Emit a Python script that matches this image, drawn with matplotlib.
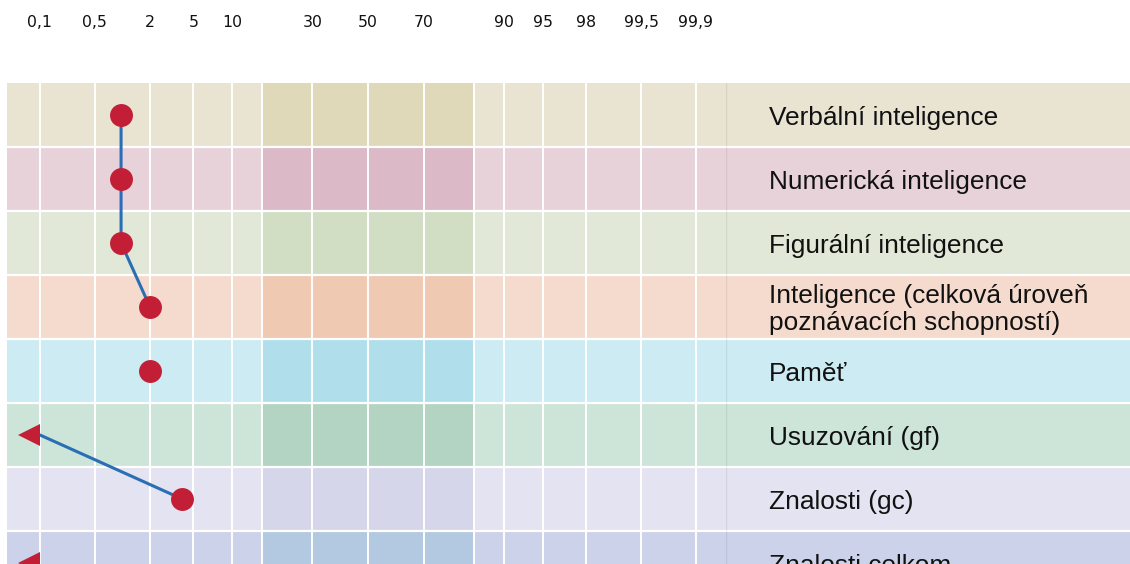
import math
import matplotlib
matplotlib.use("Agg")
import matplotlib.pyplot as plt
from matplotlib import transforms

# --- data ---
categories = [
    "Verbální inteligence",
    "Numerická inteligence",
    "Figurální inteligence",
    "Inteligence (celková úroveň\npoznávacích schopností)",
    "Paměť",
    "Usuzování (gf)",
    "Znalosti (gc)",
    "Znalosti celkom",
]
percentiles = [1, 1, 1, 2, 2, 0.1, 4, 0.1]
below_range = [False, False, False, False, False, True, False, True]
line_groups = [0, 0, 0, 0, 1, 2, 2, 3]  # consecutive rows in same group are joined

tick_percentiles = [0.1, 0.5, 2, 5, 10, 30, 50, 70, 90, 95, 98, 99.5, 99.9]
tick_labels = ["0,1", "0,5", "2", "5", "10", "30", "50", "70", "90", "95", "98", "99,5", "99,9"]
band_percentiles = [15.87, 84.13]  # +-1 SD band

# --- style ---
light = ["#E9E4D2", "#E8D2D9", "#E1E8D7", "#F5DBCD", "#CCEBF2", "#CDE4D8", "#E4E3F1", "#CDD2EB"]
dark = ["#DFD8B9", "#DBB9C7", "#D2DEC3", "#F0C9B3", "#B0DFEB", "#B3D4C2", "#D6D6EB", "#B2C9E1"]
RED = "#C21F36"
BLUE = "#2A6EB5"


def z_of(p):
    # inverse normal cdf by bisection
    q = p / 100.0
    lo, hi = -8.0, 8.0
    for _ in range(80):
        mid = (lo + hi) / 2
        if 0.5 * (1 + math.erf(mid / math.sqrt(2))) < q:
            lo = mid
        else:
            hi = mid
    return (lo + hi) / 2


W, H = 1130, 564
fig = plt.figure(figsize=(W / 100, H / 100), dpi=100)

n = len(categories)
row_px = 64
top_px = 83
bottom_frac = (H - (top_px + n * row_px)) / H
height_frac = n * row_px / H

ax = fig.add_axes([7 / W, bottom_frac, 719 / W, height_frac])
lab = fig.add_axes([726 / W, bottom_frac, (W - 726) / W, height_frac])

zb = [z_of(p) for p in band_percentiles]
for i in range(n):
    ax.axhspan(i - 0.5, i + 0.5, color=light[i], lw=0, zorder=0)
    ax.fill_between(zb, i - 0.5, i + 0.5, color=dark[i], lw=0, zorder=0.5)
    lab.axhspan(i - 0.5, i + 0.5, color=light[i], lw=0, zorder=0)

zt = [z_of(p) for p in tick_percentiles]
for z in zt + zb:
    ax.axvline(z, color="white", lw=1.4, zorder=1)
for i in range(n - 1):
    ax.axhline(i + 0.5, color="white", lw=1.6, zorder=1.2)
    lab.axhline(i + 0.5, color="white", lw=1.6, zorder=1.2)
lab.axvline(0, color="#000000", alpha=0.07, lw=1, zorder=1.5)

# connecting lines
zs = [z_of(p) for p in percentiles]
start = 0
for i in range(1, n + 1):
    if i == n or line_groups[i] != line_groups[start]:
        if i - start > 1:
            ax.plot(zs[start:i], list(range(start, i)), color=BLUE, lw=2.2,
                    solid_capstyle="round", zorder=2)
        start = i

# markers
shift = transforms.offset_copy(ax.transData, fig=fig, x=-11, y=0, units="dots")
for i in range(n):
    if below_range[i]:
        ax.plot(zs[i], i, marker="<", ms=16, color=RED, mew=0, transform=shift,
                zorder=3, clip_on=False)
    else:
        ax.plot(zs[i], i, marker="o", ms=16.5, color=RED, mew=0, zorder=3)

# labels
for i, c in enumerate(categories):
    lab.text(43 / (W - 726), i + 0.04, c, va="center", ha="left", fontsize=18.9,
             family="Liberation Sans", color="#111111", linespacing=1.18)

ax.set_xlim(-3.401, 3.373)
ax.set_ylim(n - 0.5, -0.5)
lab.set_xlim(0, 1)
lab.set_ylim(n - 0.5, -0.5)

ax.xaxis.tick_top()
ax.set_xticks(zt)
ax.set_xticklabels(tick_labels, fontsize=11.3, family="DejaVu Sans", color="#111111")
ax.tick_params(axis="x", length=0, pad=38)
ax.set_yticks([])
lab.set_xticks([])
lab.set_yticks([])
for a in (ax, lab):
    for s in a.spines.values():
        s.set_visible(False)

fig.savefig("out.png", dpi=100)
